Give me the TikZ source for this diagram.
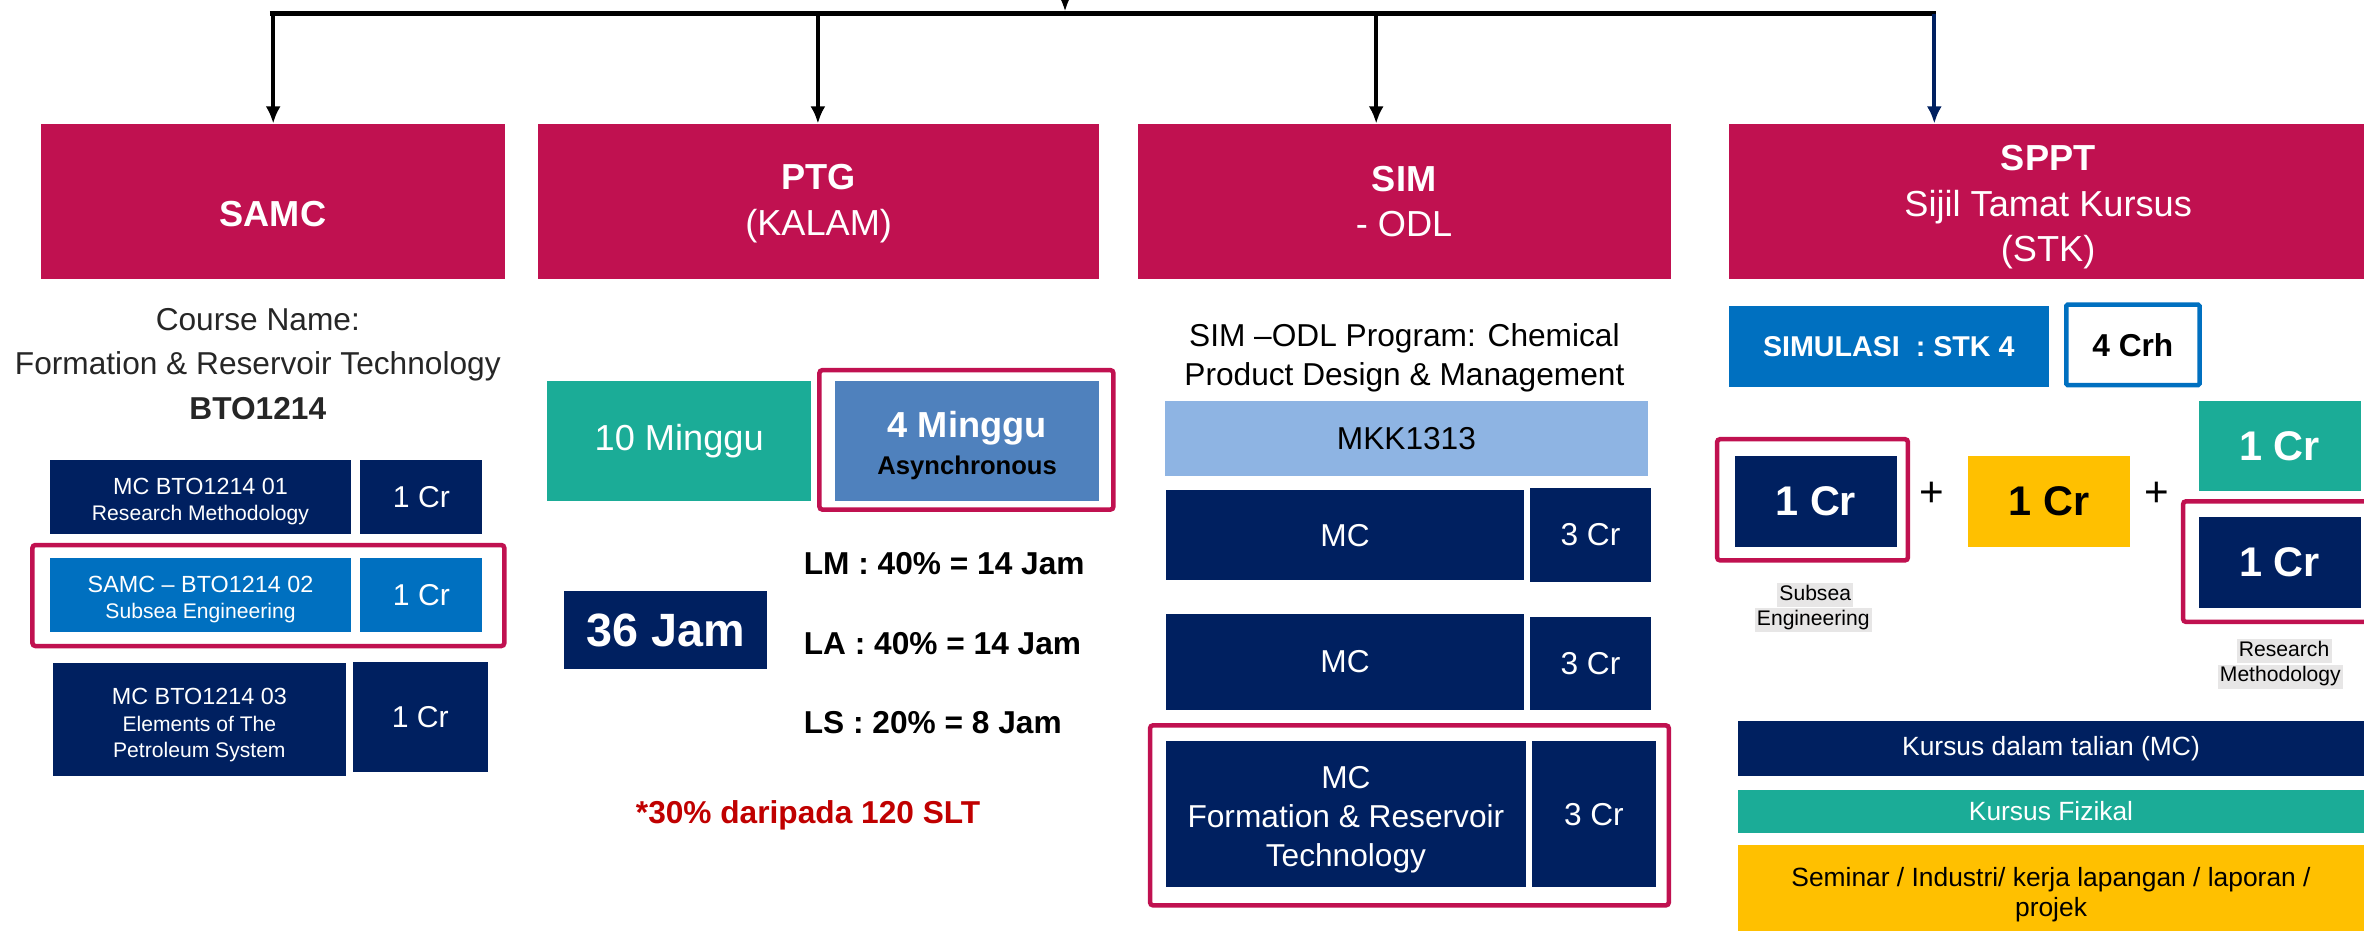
\documentclass[tikz,border=0pt]{standalone}
\usepackage{fontspec}
\setmainfont{Liberation Sans}
\usetikzlibrary{arrows.meta}
\definecolor{mag}{RGB}{192,17,80}
\definecolor{navy}{RGB}{0,32,96}
\definecolor{mblue}{RGB}{0,112,192}
\definecolor{tealc}{RGB}{27,172,151}
\definecolor{steel}{RGB}{79,129,189}
\definecolor{lblue}{RGB}{142,180,227}
\definecolor{gold}{RGB}{255,192,0}
\definecolor{dred}{RGB}{192,0,0}
\definecolor{lgray}{RGB}{231,230,230}
\definecolor{dgray}{RGB}{38,38,38}
\newcommand\fsz[2]{\fontsize{#1}{#2}\selectfont}
\begin{document}
\begin{tikzpicture}[x=1pt,y=-1pt,
  box/.style={rectangle, inner sep=0pt, outer sep=0pt, align=center, text=white},
  frame/.style={rectangle, draw=mag, line width=3pt, rounded corners=2pt, inner sep=0pt, outer sep=0pt},
  hdrtxt/.style={align=center, text=white, inner sep=0pt, font=\fsz{24}{30}},
  txt/.style={align=center, inner sep=0pt},
  wtxt/.style={txt, text=white},
  glabel/.style={fill=lgray, inner xsep=1.5pt, inner ysep=0.5pt, text height=11pt, text depth=4pt, font=\fsz{14}{16}},
  arr/.style={line width=2.5pt, -{Latex[length=11.5pt,width=10pt]}},
  crbig/.style={box, font=\fsz{27.5}{30}\bfseries},
  cr/.style={box, font=\fsz{20}{24}},
  cr3/.style={box, font=\fsz{21}{26}}
]
\useasboundingbox (0,0) rectangle (1568,617.5);

% ---------- header boxes ----------
\node[box, fill=mag, minimum width=308pt, minimum height=103pt] (samc) at (181,133.5) {};
\node[hdrtxt] (samct) at (181,142) {\textbf{SAMC}};
\node[box, fill=mag, minimum width=372pt, minimum height=103pt] (ptg) at (543,133.5) {};
\node[hdrtxt] (ptgt) at (543,135) {\textbf{PTG}\\(KALAM)};
\node[box, fill=mag, minimum width=353.4pt, minimum height=103pt] (sim) at (931.3,133.5) {};
\node[hdrtxt] (simt) at (931.3,133.5) {\textbf{SIM}\\- ODL};
\node[box, fill=mag, minimum width=423pt, minimum height=103pt] (sppt) at (1358.5,133.5) {};
\node[hdrtxt] (sppth) at (1358.5,137.5) {\textbf{SPPT}\\Sijil Tamat Kursus\\(STK)};

% ---------- connectors ----------
\coordinate (topsrc) at (706.4,-40);
\coordinate (topin) at (706.4,7.5);
\coordinate (barL) at (179,9);
\coordinate (barR) at (1284.2,9);
\coordinate (j1) at (181.2,9);
\coordinate (j2) at (542.5,9);
\coordinate (j3) at (912.8,9);
\coordinate (j4) at (1283,9);
\draw[line width=3.3pt] (barL) -- (barR);
\draw[arr] (topsrc) -- (topin);
\draw[arr] (j1) -- (j1 |- samc.north);
\draw[arr] (j2) -- (j2 |- ptg.north);
\draw[arr] (j3) -- (j3 |- sim.north);
\draw[arr, draw=navy, fill=navy] (j4) -- (j4 |- sppt.north);

% ---------- SAMC column ----------
\node[txt, text=dgray, font=\fsz{21}{29.5}] (course) at (171,241.5) {Course Name:\\Formation \& Reservoir Technology\\\textbf{BTO1214}};
\node[box, fill=navy, minimum width=200pt, minimum height=49pt] (r1L) at (133,329.5) {};
\node[wtxt, font=\fsz{14}{17.2}] (r1Lt) at ([yshift=-3pt]r1L.center) {{\fsz{15.5}{17.2}MC BTO1214 01}\\Research Methodology};
\node[cr, fill=navy, minimum width=81pt, minimum height=49pt] (r1R) at (279.5,329.5) {1 Cr};
\node[frame, minimum width=313pt, minimum height=67pt] (f1) at (178,395) {};
\node[box, fill=mblue, minimum width=200pt, minimum height=49.5pt] (r2L) at (133,394.75) {};
\node[wtxt, font=\fsz{14}{17.2}] (r2Lt) at ([yshift=-3pt]r2L.center) {{\fsz{15.5}{17.2}SAMC – BTO1214 02}\\Subsea Engineering};
\node[cr, fill=mblue, minimum width=81pt, minimum height=49.5pt] (r2R) at (279.5,394.75) {1 Cr};
\node[box, fill=navy, minimum width=194.5pt, minimum height=75pt] (r3L) at (132.25,477.5) {};
\node[wtxt, font=\fsz{14}{17.4}] (r3Lt) at ([yshift=-3.5pt]r3L.center) {{\fsz{15.5}{17.4}MC BTO1214 03}\\Elements of The\\Petroleum System};
\node[cr, fill=navy, minimum width=89.6pt, minimum height=73pt] (r3R) at (278.8,475.5) {1 Cr};

% ---------- PTG column ----------
\node[box, fill=tealc, minimum width=175pt, minimum height=79pt, font=\fsz{24}{28}] (w10) at (450.5,292.5) {10 Minggu};
\node[frame, minimum width=195pt, minimum height=92.5pt] (f2) at (641,291.75) {};
\node[box, fill=steel, minimum width=175pt, minimum height=79pt] (w4) at (641.5,292.5) {};
\node[wtxt, font=\fsz{24}{24}\bfseries] (w4t) at ([yshift=-3pt]w4.center) {4 Minggu\\{\fsz{17}{24}\color{black}Asynchronous}};
\node[box, fill=navy, minimum width=135pt, minimum height=52pt, font=\fsz{31}{34}\bfseries] (j36) at (441.5,418) {36 Jam};
\node[txt, anchor=base west, font=\fsz{21}{25}\bfseries] (lm) at (533,381.1) {LM : 40\% = 14 Jam};
\node[txt, anchor=base west, font=\fsz{21}{25}\bfseries] (la) at (533,434.1) {LA : 40\% = 14 Jam};
\node[txt, anchor=base west, font=\fsz{21}{25}\bfseries] (ls) at (533,486.5) {LS : 20\% = 8 Jam};
\node[txt, anchor=base, text=dred, font=\fsz{21}{25}\bfseries] (note) at (536,546.1) {*30\% daripada 120 SLT};

% ---------- SIM column ----------
\node[txt, font=\fsz{21}{26}] (simtitle) at (931.5,237.5) {SIM –ODL Program: Chemical\\Product Design \& Management};
\node[box, fill=lblue, text=black, minimum width=320.3pt, minimum height=49.4pt, font=\fsz{21}{26}] (mkk) at (932.85,290.7) {MKK1313};
\node[cr3, fill=navy, minimum width=237.4pt, minimum height=60pt] (mc1) at (892.1,355) {MC};
\node[cr3, fill=navy, minimum width=80.2pt, minimum height=62.2pt] (c1) at (1054.9,354.7) {3 Cr};
\node[cr3, fill=navy, minimum width=237.4pt, minimum height=63.7pt] (mc2) at (892.1,438.85) {MC};
\node[cr3, fill=navy, minimum width=80.2pt, minimum height=61.7pt] (c2) at (1054.9,439.85) {3 Cr};
\node[frame, minimum width=344.1pt, minimum height=119.4pt] (f3) at (934.85,540.8) {};
\node[box, fill=navy, minimum width=238.6pt, minimum height=96.8pt] (mc3) at (892.7,540.2) {};
\node[wtxt, font=\fsz{21}{26}] (mc3t) at ([yshift=-3.5pt]mc3.center) {MC\\Formation \& Reservoir\\Technology};
\node[cr3, fill=navy, minimum width=82.4pt, minimum height=96.8pt] (c3) at (1057.2,540.2) {3 Cr};

% ---------- SPPT column ----------
\node[box, fill=mblue, minimum width=212.1pt, minimum height=54pt, font=\fsz{19}{22}\bfseries] (simul) at (1252.75,230) {SIMULASI\ \ : STK 4};
\node[box, draw=mblue, line width=3pt, fill=white, text=black, rounded corners=1pt, minimum width=88.4pt, minimum height=53.5pt, font=\fsz{21}{24}\bfseries] (crh) at (1414.7,228.75) {4 Crh};
\node[frame, minimum width=126.6pt, minimum height=80.4pt] (fA) at (1202.2,331.5) {};
\node[crbig, fill=navy, minimum width=107.2pt, minimum height=60.2pt] (n1) at (1204.4,332.5) {1 Cr};
\node[txt, font=\fsz{28}{30}] (p1) at (1281.6,327.6) {+};
\node[crbig, fill=gold, text=black, minimum width=107.4pt, minimum height=60.2pt] (y1) at (1359,332.5) {1 Cr};
\node[txt, font=\fsz{28}{30}] (p2) at (1430.6,327.6) {+};
\node[crbig, fill=tealc, minimum width=107.2pt, minimum height=60pt] (t1) at (1512.1,296) {1 Cr};
\node[frame, minimum width=152pt, minimum height=80pt] (fB) at (1524,372.5) {};
\node[crbig, fill=navy, minimum width=107.2pt, minimum height=60.3pt] (n2) at (1512.1,372.85) {1 Cr};
\node[glabel] (ls1) at (1204,394.85) {Subsea};
\node[glabel] (ls2) at (1202.7,411.2) {Engineering};
\node[glabel] (lr1) at (1515,431.75) {Research};
\node[glabel] (lr2) at (1512.5,448.75) {Methodology};
\node[box, fill=navy, minimum width=415.2pt, minimum height=36.8pt, font=\fsz{17.5}{20}] (kmc) at (1360.4,496.6) {Kursus dalam talian (MC)};
\node[box, fill=tealc, minimum width=415.2pt, minimum height=28.3pt, font=\fsz{17.5}{20}] (kf) at (1360.4,538.15) {Kursus Fizikal};
\node[box, fill=gold, minimum width=415.2pt, minimum height=59.5pt] (sem) at (1360.4,590.25) {};
\node[txt, font=\fsz{17.5}{20}] (semt) at ([yshift=-3pt]sem.center) {Seminar / Industri/ kerja lapangan / laporan /\\projek};
\end{tikzpicture}
\end{document}
